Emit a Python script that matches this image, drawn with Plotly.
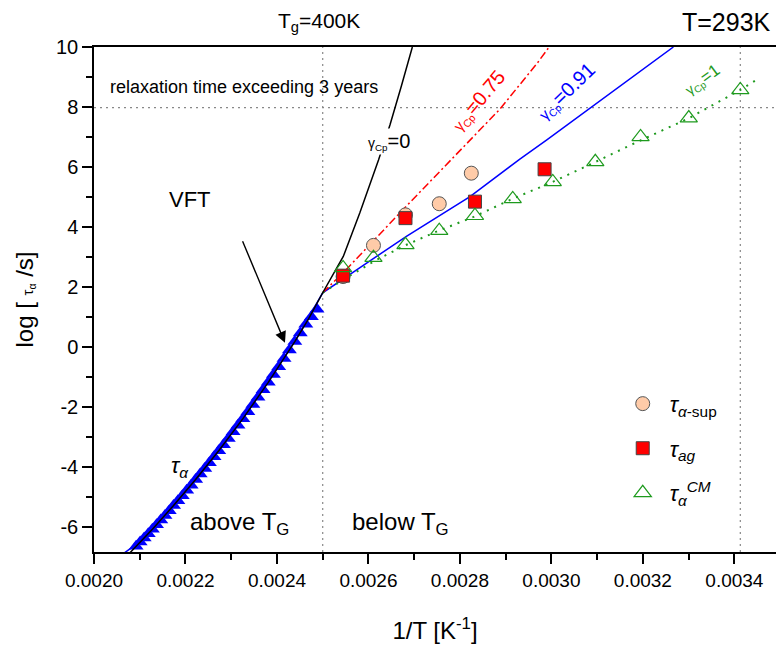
import plotly.graph_objects as go

# ---------------- data ----------------
# tau_alpha above Tg (blue filled triangles): temperature [K] and log(tau/s)
T_alpha = [478, 476, 474, 472, 470, 468, 466, 464, 462, 460, 458, 456, 454,
           452, 450, 448, 446, 444, 442, 440, 438, 436, 434, 432, 430, 428,
           426, 424, 422, 420, 418, 416, 414, 412, 410, 408, 406, 404, 402]
logtau_alpha = [-6.66, -6.52, -6.38, -6.24, -6.09, -5.94, -5.78, -5.63, -5.47,
                -5.30, -5.14, -4.97, -4.79, -4.62, -4.43, -4.25, -4.06, -3.87,
                -3.67, -3.47, -3.27, -3.06, -2.84, -2.62, -2.40, -2.17, -1.93,
                -1.69, -1.44, -1.19, -0.93, -0.67, -0.39, -0.11, 0.17, 0.46,
                0.75, 1.00, 1.25]

# tau_alpha-sup (peach circles)
T_sup = [393, 383, 373, 363, 354]
logtau_sup = [2.34, 3.38, 4.40, 4.77, 5.79]

# tau_ag (red squares)
T_ag = [393, 373, 353, 335]
logtau_ag = [2.37, 4.29, 4.84, 5.92]

# tau_alpha^CM (green open triangles)
T_cm = [393, 383, 373, 363, 353, 343, 333, 323, 313, 303, 293]
logtau_cm = [2.63, 2.97, 3.40, 3.87, 4.37, 4.93, 5.50, 6.17, 7.00, 7.63, 8.57]

# model curves: 1/T [1/K] and log(tau/s)
vft_x = [0.002079, 0.0021277, 0.0021739, 0.0022222, 0.0022727, 0.0023256,
         0.0023810, 0.0024390, 0.0024691, 0.0025, 0.002545, 0.002581,
         0.002622, 0.002647, 0.002672, 0.002696]
vft_y = [-6.87, -6.09, -5.30, -4.43, -3.47, -2.40, -1.19, 0.17, 0.93, 1.80,
         3.01, 4.46, 6.23, 7.40, 8.70, 10.0]

g075_x = [0.0025, 0.00255, 0.002669, 0.00275, 0.002807, 0.002887, 0.002969, 0.002995]
g075_y = [1.80, 2.55, 4.47, 5.75, 6.65, 7.92, 9.46, 10.0]

g091_x = [0.00206, 0.00209, 0.00222, 0.00233, 0.00244, 0.0025, 0.002596,
          0.002683, 0.002822, 0.002931, 0.00299, 0.0032667]
g091_y = [-6.95, -6.62, -4.48, -2.31, 0.20, 1.80, 2.79, 3.68, 5.01, 6.26, 6.90, 10.0]

g1_x = [0.0025, 0.002544, 0.002618, 0.00268, 0.00275, 0.00283, 0.00291,
        0.0030, 0.00309, 0.00319, 0.0033, 0.003413, 0.003447]
g1_y = [1.80, 2.23, 2.90, 3.38, 3.85, 4.33, 4.90, 5.48, 6.12, 6.85, 7.62, 8.57, 8.89]

Tg = 400          # K
T_room = 293      # K
log_3years = 7.976

x_range = [0.0020, 0.003491]
y_range = [-6.85, 10]
y_tickvals = [-6, -4, -2, 0, 2, 4, 6, 8, 10]
y_ticktext = ["-6", "-4", "-2", "0", "2", "4", "6", "8", "10"]

FONT = "Liberation Sans, Arial, sans-serif"

def inv(Ts):
    return [1.0 / t for t in Ts]

fig = go.Figure()

# curves
fig.add_trace(go.Scatter(x=g091_x, y=g091_y, mode="lines",
                         line=dict(color="#0000FF", width=1.5), showlegend=False))
fig.add_trace(go.Scatter(x=g075_x, y=g075_y, mode="lines",
                         line=dict(color="#FF0000", width=1.5, dash="8px,3px,2px,3px"),
                         showlegend=False))
fig.add_trace(go.Scatter(x=g1_x, y=g1_y, mode="lines",
                         line=dict(color="#1E9A1E", width=2, dash="2px,6px"),
                         showlegend=False))

# blue triangles above Tg
fig.add_trace(go.Scatter(x=inv(T_alpha), y=logtau_alpha, mode="markers",
                         marker=dict(symbol="triangle-up", size=13, color="#0000FF",
                                     line=dict(width=0)), showlegend=False))
# VFT black line
fig.add_trace(go.Scatter(x=vft_x, y=vft_y, mode="lines",
                         line=dict(color="black", width=1.5), showlegend=False))

# below Tg data
fig.add_trace(go.Scatter(x=inv(T_sup), y=logtau_sup, mode="markers",
                         name="<i>τ</i><sub><i>α</i>-sup</sub>", legendgroup="a",
                         marker=dict(symbol="circle", size=14, color="#FFCBA8",
                                     line=dict(color="#555555", width=1))))
fig.add_trace(go.Scatter(x=inv(T_ag), y=logtau_ag, mode="markers",
                         name="<i>τ</i><sub><i>ag</i></sub>", legendgroup="b",
                         marker=dict(symbol="square", size=13, color="#FF0000",
                                     line=dict(color="#444444", width=1))))
fig.add_trace(go.Scatter(x=inv(T_cm), y=logtau_cm, mode="markers",
                         name="<i>τ</i><sub><i>α</i></sub><sup><i>CM</i></sup>", legendgroup="c",
                         marker=dict(symbol="triangle-up-open", size=15, color="#1E9A1E",
                                     line=dict(color="#1E9A1E", width=1.2))))

# reference dotted lines
dot = dict(color="#888888", width=1.2, dash="2px,4px")
fig.add_shape(type="line", xref="x", yref="paper", x0=1.0 / Tg, x1=1.0 / Tg, y0=0, y1=1, line=dot, layer="below")
fig.add_shape(type="line", xref="x", yref="paper", x0=1.0 / T_room, x1=1.0 / T_room, y0=0, y1=1, line=dot, layer="below")
fig.add_shape(type="line", xref="paper", yref="y", x0=0, x1=1, y0=log_3years, y1=log_3years, line=dot, layer="below")

ann = []
ann.append(dict(x=1.0 / Tg - 0.000008, y=1.049, xref="x", yref="paper", text="T<sub>g</sub>=400K",
                showarrow=False, font=dict(size=21, color="black"), xanchor="center", yanchor="middle"))
ann.append(dict(x=0.995, y=1.049, xref="paper", yref="paper", text="T=293K",
                showarrow=False, font=dict(size=25, color="black"), xanchor="right", yanchor="middle"))
ann.append(dict(x=0.0020306, y=8.67, xref="x", yref="y", text="relaxation time exceeding 3 years",
                showarrow=False, font=dict(size=18, color="black"), xanchor="left", yanchor="middle"))
ann.append(dict(x=0.002210, y=4.9, xref="x", yref="y", text="VFT",
                showarrow=False, font=dict(size=22, color="black")))
ann.append(dict(x=0.0024175, y=0.13, ax=0.0023235, ay=3.57, xref="x", yref="y", axref="x", ayref="y",
                text="", showarrow=True, arrowhead=2, arrowsize=1.6, arrowwidth=1.4, arrowcolor="black",
                standoff=0))
ann.append(dict(x=0.002188, y=-4.0, xref="x", yref="y", text="<i>τ</i><sub><i>α</i></sub>",
                showarrow=False, font=dict(size=22, color="black")))
ann.append(dict(x=0.002319, y=-5.9, xref="x", yref="y", text="above T<sub>G</sub>",
                showarrow=False, font=dict(size=24, color="black")))
ann.append(dict(x=0.002669, y=-5.9, xref="x", yref="y", text="below T<sub>G</sub>",
                showarrow=False, font=dict(size=24, color="black")))
ann.append(dict(x=0.002646, y=6.85, xref="x", yref="y",
                text="<span style='font-size:14px'>γ<sub>Cp</sub></span>=0",
                showarrow=False, font=dict(size=20, color="black"), bgcolor="white"))
ann.append(dict(x=0.0028415, y=8.2, xref="x", yref="y",
                text="<span style='font-size:15px'>γ<sub>Cp</sub></span>=0.75", textangle=-50,
                showarrow=False, font=dict(size=20, color="#FF0000")))
ann.append(dict(x=0.003033, y=8.5, xref="x", yref="y",
                text="<span style='font-size:15px'>γ<sub>Cp</sub></span>=0.91", textangle=-44,
                showarrow=False, font=dict(size=20, color="#0000FF")))
ann.append(dict(x=0.003330, y=8.9, xref="x", yref="y",
                text="<span style='font-size:14px'>γ<sub>Cp</sub></span>=1", textangle=-36,
                showarrow=False, font=dict(size=17, color="#1E9A1E")))

fig.update_layout(
    width=776, height=651,
    margin=dict(l=94, r=0, t=47, b=99),
    paper_bgcolor="white", plot_bgcolor="white",
    font=dict(family=FONT, color="black"),
    annotations=ann,
    legend=dict(x=0.765, y=0.335, xanchor="left", yanchor="top",
                font=dict(size=22, color="black"), bgcolor="rgba(0,0,0,0)",
                tracegroupgap=13, itemwidth=44),
    xaxis=dict(range=x_range, showgrid=False, zeroline=False,
               showline=True, linecolor="black", linewidth=1.5, mirror=True,
               ticks="outside", ticklen=10, tickwidth=1.5, tickcolor="black",
               dtick=0.0002, tick0=0.0020, tickformat=".4f",
               tickfont=dict(size=19),
               minor=dict(dtick=0.0001, ticks="outside", ticklen=6, tickwidth=1.5, tickcolor="black"),
               title=dict(text="1/T [K<sup>-1</sup>]", font=dict(size=24), standoff=33)),
    yaxis=dict(range=y_range, showgrid=False, zeroline=False,
               showline=True, linecolor="black", linewidth=1.5, mirror=False,
               ticks="outside", ticklen=10, tickwidth=1.5, tickcolor="black",
               tickvals=y_tickvals, ticktext=y_ticktext, tickfont=dict(size=20),
               minor=dict(dtick=1, ticks="outside", ticklen=6, tickwidth=1.5, tickcolor="black"),
               title=dict(text="log [ <span style='font-size:15px'>τ<sub>α</sub></span> /s]",
                          font=dict(size=24), standoff=16)),
)

fig.write_html("out.html", config={"displayModeBar": False},
               post_script="document.body.style.margin='0px';")
